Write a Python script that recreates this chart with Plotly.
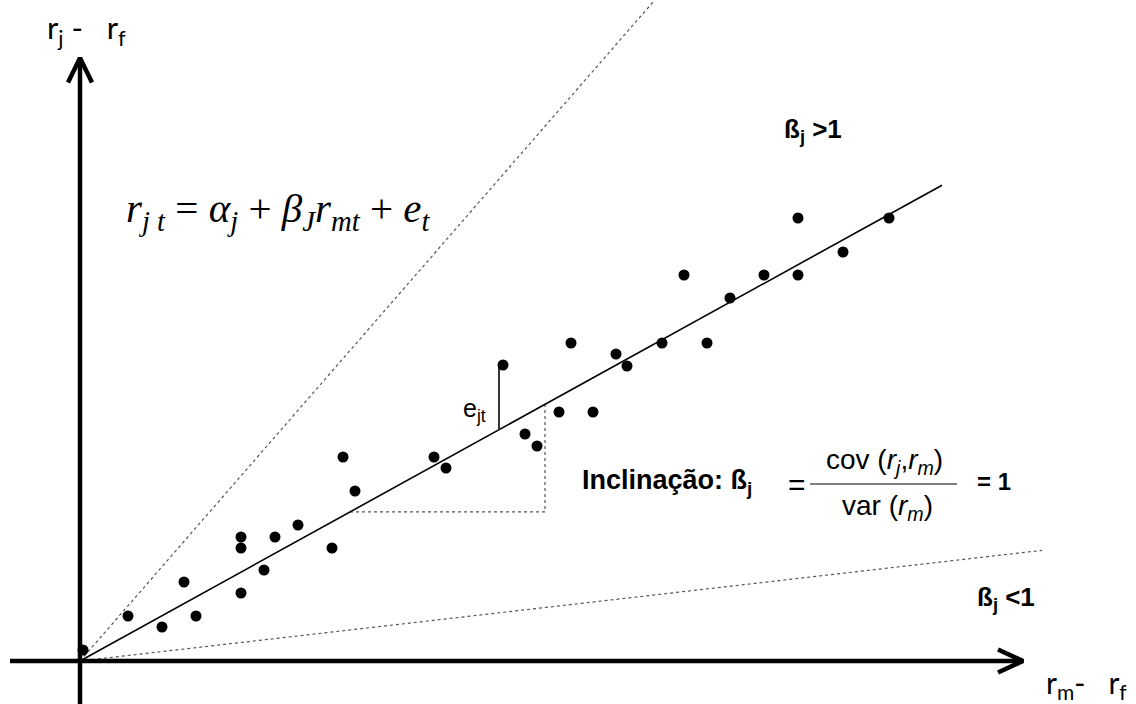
import plotly.graph_objects as go

# Excess market return (x) and excess asset return (y) for each period
rm_excess = [0.03, 0.48, 0.82, 1.04, 1.16, 1.61, 1.61, 1.61, 1.84, 1.95, 2.18, 2.52, 2.63, 2.75,
             3.54, 3.66, 4.23, 4.45, 4.57, 4.79, 4.91, 5.13, 5.36, 5.47, 5.82, 6.04, 6.27, 6.50,
             6.84, 7.18, 7.18, 7.63, 8.09]
rj_excess = [0.11, 0.45, 0.34, 0.79, 0.45, 1.24, 1.13, 0.68, 0.91, 1.24, 1.36, 1.13, 2.04, 1.70,
             2.04, 1.93, 2.96, 2.27, 2.15, 2.49, 3.18, 2.49, 3.07, 2.95, 3.18, 3.86, 3.18, 3.63,
             3.86, 4.43, 3.86, 4.09, 4.43]

# Characteristic line and two reference lines (beta > 1, beta < 1)
alpha_j = 0.0
beta_fit = 0.552
beta_high = 1.15
beta_low = 0.115
fit_x = [0.0, 8.62]
high_x = [0.0, 5.9]
low_x = [0.0, 9.62]

# Rise-over-run triangle and the highlighted residual
slope_run = [2.70, 4.65]
resid_idx = 16

# Axis extents
x_axis = [-0.70, 9.43]
y_axis = [-0.43, 6.03]
x_range = [-0.80, 10.56]
y_range = [-0.43, 6.61]

W, H = 1136, 704


def line_y(b, xs):
    return [alpha_j + b * v for v in xs]


def px(x):
    return x / W


def py(y):
    return 1 - y / H


fig = go.Figure()

# reference lines
for b, xs in [(beta_high, high_x), (beta_low, low_x)]:
    fig.add_trace(go.Scatter(x=xs, y=line_y(b, xs), mode="lines",
                             line=dict(color="#555555", width=1.2, dash="dot"),
                             hoverinfo="skip"))

# rise-over-run triangle
run_y = line_y(beta_fit, slope_run)
fig.add_trace(go.Scatter(x=[slope_run[0], slope_run[1], slope_run[1]],
                         y=[run_y[0], run_y[0], run_y[1]], mode="lines",
                         line=dict(color="#555555", width=1.2, dash="dot"),
                         hoverinfo="skip"))

# fitted characteristic line
fig.add_trace(go.Scatter(x=fit_x, y=line_y(beta_fit, fit_x), mode="lines",
                         line=dict(color="black", width=1.6), hoverinfo="skip"))

# residual e_jt
rx = rm_excess[resid_idx] - 0.04
fig.add_trace(go.Scatter(x=[rx, rx], y=[alpha_j + beta_fit * rx, rj_excess[resid_idx]],
                         mode="lines", line=dict(color="#333333", width=2),
                         hoverinfo="skip"))

# observations
fig.add_trace(go.Scatter(x=rm_excess, y=rj_excess, mode="markers",
                         marker=dict(color="black", size=11, line=dict(width=0))))

# axes with open arrowheads
axis_line = dict(color="black", width=4.5)
fig.add_trace(go.Scatter(x=x_axis, y=[0, 0], mode="lines", line=axis_line, hoverinfo="skip"))
fig.add_trace(go.Scatter(x=[0, 0], y=y_axis, mode="lines", line=axis_line, hoverinfo="skip"))
tip_x, tip_y = x_axis[1], y_axis[1]
fig.add_trace(go.Scatter(x=[tip_x - 0.25, tip_x, tip_x - 0.25], y=[0.115, 0, -0.115],
                         mode="lines", line=axis_line, hoverinfo="skip"))
fig.add_trace(go.Scatter(x=[-0.12, 0, 0.12], y=[tip_y - 0.245, tip_y, tip_y - 0.245],
                         mode="lines", line=axis_line, hoverinfo="skip"))

sans = "Liberation Sans"
serif = "Liberation Serif"
calib = "Lato"


def note(text, x, y, size, family, xanchor="left", yanchor="middle"):
    fig.add_annotation(text=text, x=px(x), y=py(y), xref="paper", yref="paper",
                       xanchor=xanchor, yanchor=yanchor, showarrow=False,
                       font=dict(size=size, family=family, color="black"))


note("r<sub>j</sub> -&nbsp;&nbsp; r<sub>f</sub>", 45, 30, 31, calib)
note("r<sub>m</sub>-&nbsp;&nbsp; r<sub>f</sub>", 1044, 684, 30, calib)

note("<i>r</i><sub><i>j t</i></sub> = <i>α</i><sub><i>j</i></sub> + "
     "<i>β</i><sub><i>J</i></sub><i>r</i><sub><i>mt</i></sub> + <i>e</i><sub><i>t</i></sub>",
     124, 211, 41, serif)

note("e<sub>jt</sub>", 461, 410, 25, sans)

note("<b>Inclinação: ß<sub>j</sub></b>", 580, 482, 27, sans)
note("=", 786, 484, 30, sans)
note("cov (<i>r</i><sub><i>j</i></sub>,<i>r</i><sub><i>m</i></sub>)", 884, 461, 28, sans,
     xanchor="center")
note("var (<i>r</i><sub><i>m</i></sub>)", 887, 507, 28, sans, xanchor="center")
fig.add_shape(type="line", xref="paper", yref="paper", x0=px(810), x1=px(957),
              y0=py(484), y1=py(484), line=dict(color="black", width=1.2))
note("<b>= 1</b>", 975, 481, 24, sans)

note("<b>ß<sub>j</sub> &gt;1</b>", 782, 131, 26, sans)
note("<b>ß<sub>j</sub> &lt;1</b>", 975, 598, 26, sans)

fig.update_layout(
    width=W, height=H,
    margin=dict(l=0, r=0, t=0, b=0),
    paper_bgcolor="white", plot_bgcolor="white",
    showlegend=False,
    xaxis=dict(range=x_range, visible=False, fixedrange=True),
    yaxis=dict(range=y_range, visible=False, fixedrange=True),
)

fig.write_html("out.html")
